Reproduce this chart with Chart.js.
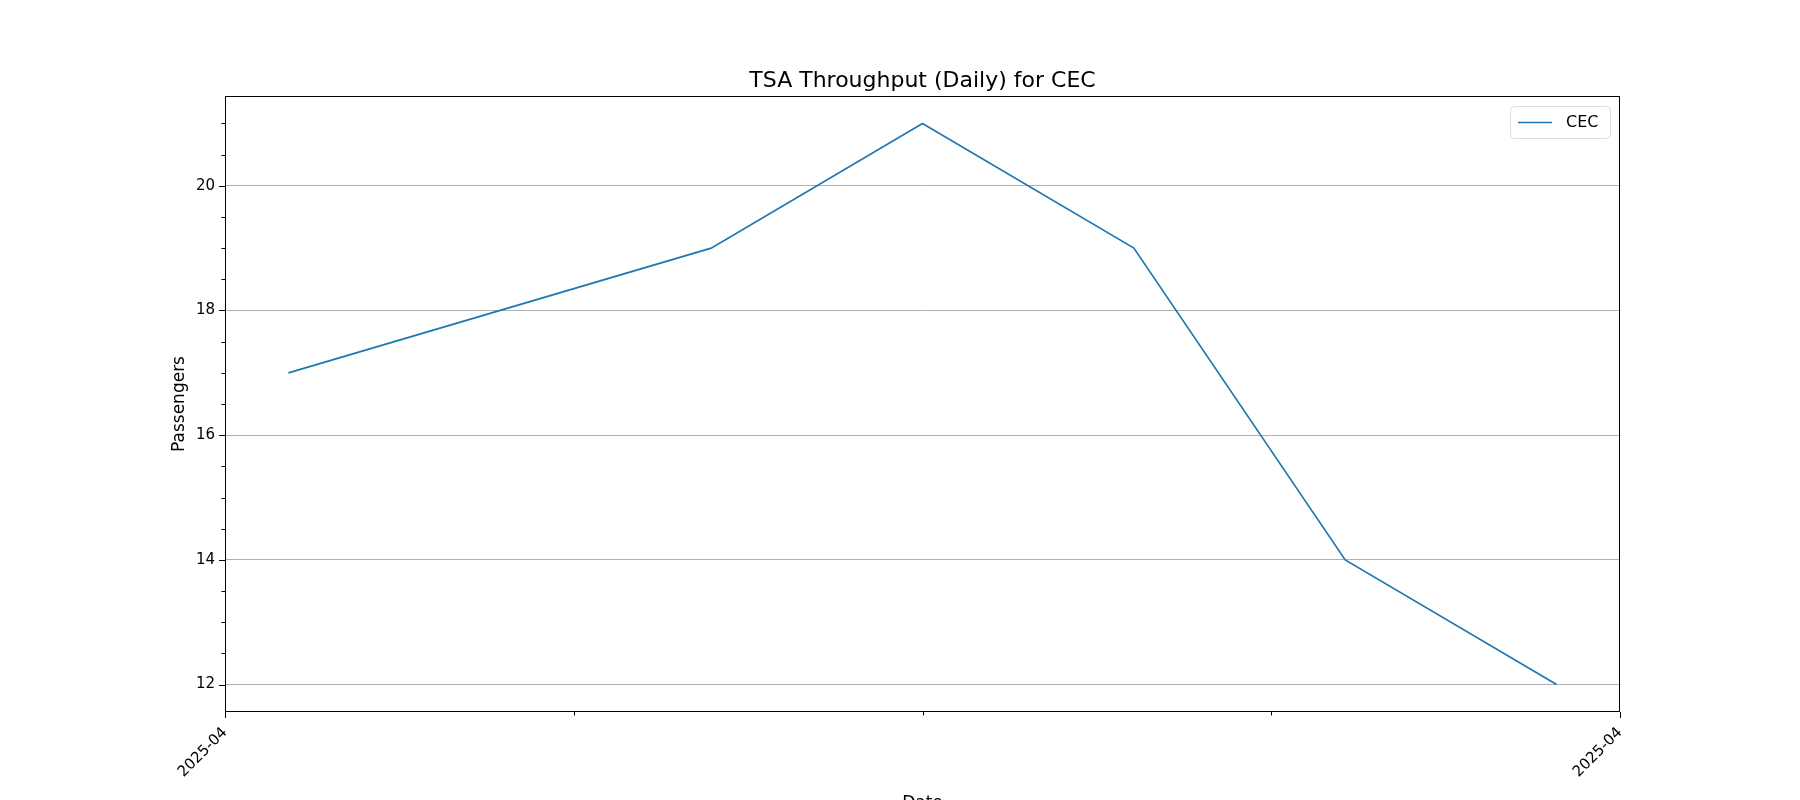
<!DOCTYPE html>
<html><head><meta charset="utf-8">
<script src="https://cdn.jsdelivr.net/npm/chart.js@4"></script>
<style>html,body{margin:0;background:#fff}</style></head>
<body><canvas id="c" width="1800" height="800" style="width:1800px;height:800px"></canvas>
<script>
const dayOffsets=[0,2,3,4,5,6];
const passengers=[17,19,21,19,14,12];
const xTickLabel="2025-04";
const F='"DejaVu Sans", sans-serif';
const ticksPlugin={id:'tk',afterDraw(ch){
 const c=ch.ctx,a=ch.chartArea,y=ch.scales.y,x=ch.scales.x;
 c.save();c.strokeStyle='#000';c.lineWidth=1;
 c.strokeRect(a.left+0.5,a.top+0.5,a.right-a.left-1,a.bottom-a.top-1);
 for(let v=12;v<=21.4;v+=0.5){const p=Math.round(y.getPixelForValue(v))+0.5;const L=(v%2===0)?6:3.5;c.beginPath();c.moveTo(a.left,p);c.lineTo(a.left-L,p);c.stroke();}
 x.ticks.forEach((t,i)=>{const p=Math.round(x.getPixelForValue(t.value))+0.5;const L=(i===0||i===x.ticks.length-1)?6:3.5;c.beginPath();c.moveTo(p,a.bottom);c.lineTo(p,a.bottom+L);c.stroke();});
 c.fillStyle='#000';c.font='22px '+F;c.textAlign='center';c.textBaseline='alphabetic';
 c.fillText('TSA Throughput (Daily) for CEC',(a.left+a.right)/2,87);
 c.font='17px '+F;c.fillText('Date',(a.left+a.right)/2,808);
 c.save();c.translate(184,(a.top+a.bottom)/2);c.rotate(-Math.PI/2);c.fillText('Passengers',0,0);c.restore();
 // legend
 const lx=a.right-110,ly=a.top+10,w=100,h=32;
 c.strokeStyle='#ddd';c.fillStyle='rgba(255,255,255,0.8)';c.beginPath();c.roundRect(lx+0.5,ly+0.5,w,h,4);c.fill();c.stroke();
 c.strokeStyle='#1f77b4';c.lineWidth=1.7;c.beginPath();c.moveTo(lx+8,ly+16.5);c.lineTo(lx+42,ly+16.5);c.stroke();
 c.fillStyle='#000';c.textAlign='left';c.textBaseline='middle';c.font='16px '+F;c.fillText(ch.data.datasets[0].label,lx+56,ly+17);
 c.restore();}};
new Chart(document.getElementById('c'),{type:'line',
 data:{datasets:[{label:'CEC',data:dayOffsets.map((d,i)=>({x:d,y:passengers[i]})),borderColor:'#1f77b4',borderWidth:1.7,pointRadius:0,tension:0,fill:false}]},
 options:{responsive:false,animation:false,devicePixelRatio:1,
  layout:{padding:{top:96,right:180,left:0,bottom:0}},
  plugins:{legend:{display:false},tooltip:{enabled:false}},
  scales:{
   x:{type:'linear',min:-0.3,max:6.3,afterBuildTicks(s){s.ticks=[-0.3,1.35,3,4.65,6.3].map(v=>({value:v}));},
    afterFit(s){s.height=88;},border:{display:false},grid:{display:false},
    ticks:{autoSkip:false,maxRotation:45,minRotation:45,color:'#000',font:{family:F,size:15},padding:4,
     callback:(v,i,t)=>(i===0||i===t.length-1)?xTickLabel:''}},
   y:{min:11.56,max:21.44,afterBuildTicks(s){const t=[];for(let v=12;v<=21;v+=2)t.push({value:v});s.ticks=t;},
    afterFit(s){s.width=225;},border:{display:false},
    grid:{color:'#b0b0b0',lineWidth:1,drawTicks:false},
    ticks:{color:'#000',font:{family:F,size:15},padding:10}}}},
 plugins:[ticksPlugin]});
</script></body></html>
